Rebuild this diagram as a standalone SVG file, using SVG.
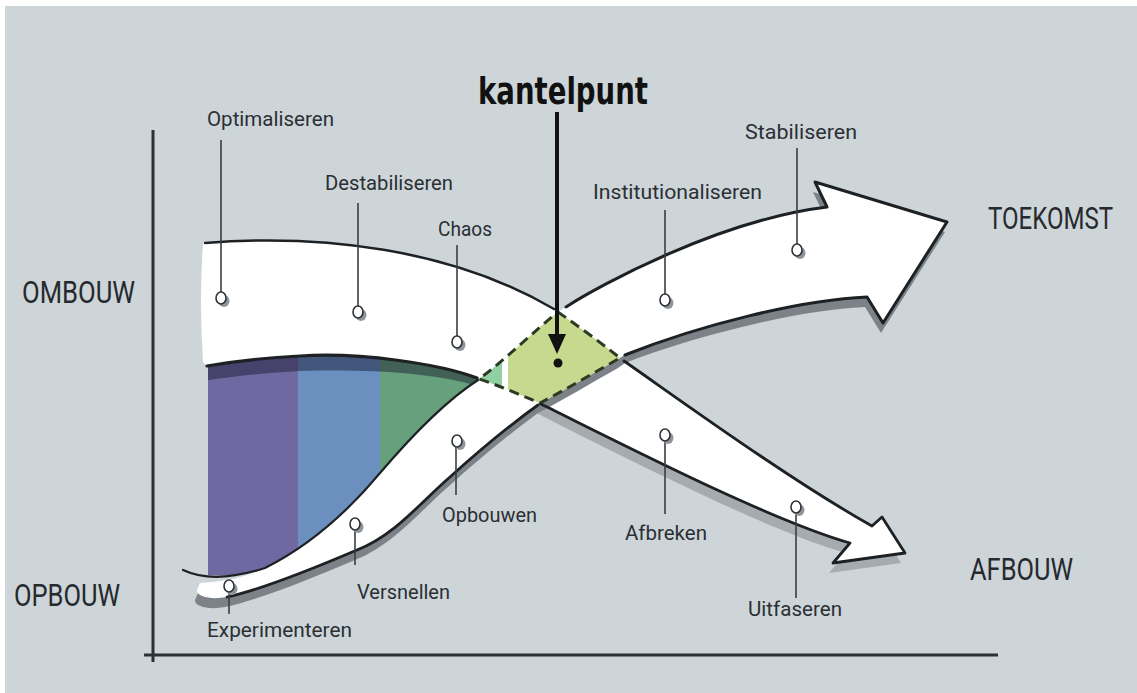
<svg xmlns="http://www.w3.org/2000/svg" width="1137" height="693" viewBox="0 0 1137 693">
<style>
.lbl{font-family:Roboto,"Liberation Sans",sans-serif;font-size:21px;fill:#2b2f33}
.big{font-family:Roboto,"Liberation Sans",sans-serif;font-size:31px;fill:#262a2e}
.edge{fill:none;stroke:#1e2124;stroke-linecap:round;stroke-linejoin:round}
.lead{stroke:#3a3d40;stroke-width:1.6}
.pin{fill:#fff;stroke:#2e3236;stroke-width:1.6}
.pinsh{fill:#8f959a}
</style>
<defs>
<path id="bandA" d="M203,243 C320,234 450,248 556,310 C578,324 600,341 620,358 C680,400 790,480 872,526 L882,517 L905,553 L833,563 L850,543 C770,520 630,448 540,403 C520,395 498,385 479,379 C440,364 360,352 300,356 C260,358 230,362 207,366 L203,362 Q199,300 203,243 Z"/>
<path id="bandB" d="M200,583 C220,582 245,578 265,568 C305,548 345,515 380,473 C415,432 450,398 479,379 C505,360 535,330 558,312 C600,285 720,220 827,207 L815,182 L947,222 L883,323 L867,297 C800,300 700,325 627,353 L620,358 C595,372 565,390 540,403 C510,425 480,450 450,477 C420,503 395,535 357,550 C310,570 260,590 227,597 C212,600 196,597 197,590 Z"/>
<path id="diamond" d="M558,312 C578,326 600,342 620,358 C595,372 565,390 540,403 C520,395 498,385 479,379 C505,360 535,330 558,312 Z"/>
<path id="colored" d="M208,366 C230,362 260,358 300,356 C360,352 440,364 479,379 C450,398 415,432 380,473 C345,515 305,548 265,568 C245,576 225,576 208,575 Z"/>
<clipPath id="clipCol"><use href="#colored"/></clipPath>
<clipPath id="clipDia"><use href="#diamond"/></clipPath>
<clipPath id="clipRight"><rect x="520" y="0" width="617" height="693"/></clipPath>
</defs>

<rect x="0" y="0" width="1137" height="693" fill="#fff"/>
<rect x="5" y="6" width="1132" height="687" fill="#cdd5d9"/>

<g id="axes" stroke="#2d3135" stroke-width="3" fill="none">
<line x1="153" y1="130" x2="153" y2="662"/>
<line x1="144" y1="655" x2="998" y2="655"/>
</g>

<g id="bands">
<use href="#bandA" fill="#a5abaf" transform="translate(-4,10)" clip-path="url(#clipRight)"/>
<use href="#bandA" fill="#fff"/>
<use href="#bandB" fill="#7c8287" transform="translate(-2,10)"/>
<use href="#bandB" fill="#fff"/>
<g clip-path="url(#clipCol)">
<rect x="200" y="340" width="98" height="250" fill="#6f68a1"/>
<rect x="298" y="340" width="82" height="250" fill="#6b8fbf"/>
<rect x="380" y="340" width="110" height="250" fill="#67a07c"/>
<path d="M200,360 C230,362 260,358 300,356 C360,352 440,364 485,379 L470,384 C430,373 370,369 300,371 C260,373 230,377 200,381 Z" fill="#15152a" opacity="0.45"/>
</g>
</g>

<g id="kantelpunt-zone">
<use href="#diamond" fill="#c6d98f"/>
<g clip-path="url(#clipDia)">
<rect x="470" y="300" width="38" height="110" fill="#fff"/>
<rect x="470" y="300" width="32" height="110" fill="#8fd1a2"/>
</g>
<use href="#diamond" fill="none" stroke="#2c3a22" stroke-width="3" stroke-dasharray="10 6"/>
</g>

<g id="edges" class="edge">
<path stroke-width="2.5" d="M205,243 C320,234 450,248 554,309"/>
<path stroke-width="2.8" d="M624,361 C680,400 790,480 872,526 L882,517 L905,553 L833,563 L850,543 C770,520 630,448 541,404"/>
<path stroke-width="3.2" d="M207,366 C230,362 260,358 300,356 C360,352 440,364 477,378"/>
<path stroke-width="2.2" d="M183,570 C200,578 225,581 265,568 C305,548 345,515 380,473 C415,432 450,398 478,380"/>
<path stroke-width="3" d="M566,307 C600,285 720,220 827,207 L815,182 L947,222 L883,323 L867,297 C800,300 700,325 625,355"/>
<path stroke-width="2.8" d="M538,405 C510,425 480,450 450,477 C420,503 395,535 357,550 C310,570 260,590 227,597"/>
</g>

<g id="connectors">
<line class="lead" x1="221" y1="140" x2="221" y2="292"/>
<line class="lead" x1="358" y1="203" x2="358" y2="306"/>
<line class="lead" x1="457" y1="245" x2="457" y2="336"/>
<line class="lead" x1="665" y1="210" x2="665" y2="294"/>
<line class="lead" x1="797" y1="148" x2="797" y2="244"/>
<line class="lead" x1="456" y1="447" x2="456" y2="495"/>
<line class="lead" x1="355" y1="530" x2="355" y2="565"/>
<line class="lead" x1="229" y1="592" x2="229" y2="614"/>
<line class="lead" x1="665" y1="441" x2="665" y2="514"/>
<line class="lead" x1="796" y1="513" x2="796" y2="598"/>
<line x1="557" y1="112" x2="557" y2="338" stroke="#111" stroke-width="4"/>
<polygon points="548,334 566,334 557,354" fill="#111"/>
</g>

<g id="n-kantelpunt">
<text x="478" y="104" font-family="'DejaVu Sans Condensed','DejaVu Sans',sans-serif" font-weight="bold" font-size="38" fill="#111" textLength="170" lengthAdjust="spacingAndGlyphs">kantelpunt</text>
<circle cx="558" cy="363" r="4.5" fill="#111"/>
</g>

<g id="n-optimaliseren">
<ellipse class="pinsh" cx="224" cy="301" rx="5.5" ry="6"/>
<ellipse class="pin" cx="221" cy="298" rx="5" ry="6"/>
<text class="lbl" x="207" y="126" textLength="127" lengthAdjust="spacingAndGlyphs">Optimaliseren</text>
</g>
<g id="n-destabiliseren">
<ellipse class="pinsh" cx="361" cy="315" rx="5.5" ry="6"/>
<ellipse class="pin" cx="358" cy="312" rx="5" ry="6"/>
<text class="lbl" x="325" y="190" textLength="128" lengthAdjust="spacingAndGlyphs">Destabiliseren</text>
</g>
<g id="n-chaos">
<ellipse class="pinsh" cx="460" cy="345" rx="5.5" ry="6"/>
<ellipse class="pin" cx="457" cy="342" rx="5" ry="6"/>
<text class="lbl" x="438" y="236" textLength="54" lengthAdjust="spacingAndGlyphs">Chaos</text>
</g>
<g id="n-institutionaliseren">
<ellipse class="pinsh" cx="668" cy="303" rx="5.5" ry="6"/>
<ellipse class="pin" cx="665" cy="300" rx="5" ry="6"/>
<text class="lbl" x="593" y="199" textLength="169" lengthAdjust="spacingAndGlyphs">Institutionaliseren</text>
</g>
<g id="n-stabiliseren">
<ellipse class="pinsh" cx="800" cy="253" rx="5.5" ry="6"/>
<ellipse class="pin" cx="797" cy="250" rx="5" ry="6"/>
<text class="lbl" x="745" y="139" textLength="112" lengthAdjust="spacingAndGlyphs">Stabiliseren</text>
</g>
<g id="n-opbouwen">
<ellipse class="pinsh" cx="460" cy="444" rx="5.5" ry="6"/>
<ellipse class="pin" cx="457" cy="441" rx="5" ry="6"/>
<text class="lbl" x="442" y="522" textLength="95" lengthAdjust="spacingAndGlyphs">Opbouwen</text>
</g>
<g id="n-versnellen">
<ellipse class="pinsh" cx="358" cy="527" rx="5.5" ry="6"/>
<ellipse class="pin" cx="355" cy="524" rx="5" ry="6"/>
<text class="lbl" x="357" y="599" textLength="93" lengthAdjust="spacingAndGlyphs">Versnellen</text>
</g>
<g id="n-experimenteren">
<ellipse class="pinsh" cx="232" cy="589" rx="5.5" ry="6"/>
<ellipse class="pin" cx="229" cy="586" rx="5" ry="6"/>
<text class="lbl" x="207" y="637" textLength="145" lengthAdjust="spacingAndGlyphs">Experimenteren</text>
</g>
<g id="n-afbreken">
<ellipse class="pinsh" cx="668" cy="438" rx="5.5" ry="6"/>
<ellipse class="pin" cx="665" cy="435" rx="5" ry="6"/>
<text class="lbl" x="625" y="540" textLength="82" lengthAdjust="spacingAndGlyphs">Afbreken</text>
</g>
<g id="n-uitfaseren">
<ellipse class="pinsh" cx="799" cy="510" rx="5.5" ry="6"/>
<ellipse class="pin" cx="796" cy="507" rx="5" ry="6"/>
<text class="lbl" x="748" y="616" textLength="94" lengthAdjust="spacingAndGlyphs">Uitfaseren</text>
</g>

<g id="n-ombouw"><text class="big" x="22" y="303" textLength="113" lengthAdjust="spacingAndGlyphs">OMBOUW</text></g>
<g id="n-opbouw"><text class="big" x="14" y="606" textLength="106" lengthAdjust="spacingAndGlyphs">OPBOUW</text></g>
<g id="n-toekomst"><text class="big" x="988" y="229" textLength="125" lengthAdjust="spacingAndGlyphs">TOEKOMST</text></g>
<g id="n-afbouw"><text class="big" x="970" y="580" textLength="103" lengthAdjust="spacingAndGlyphs">AFBOUW</text></g>
</svg>
